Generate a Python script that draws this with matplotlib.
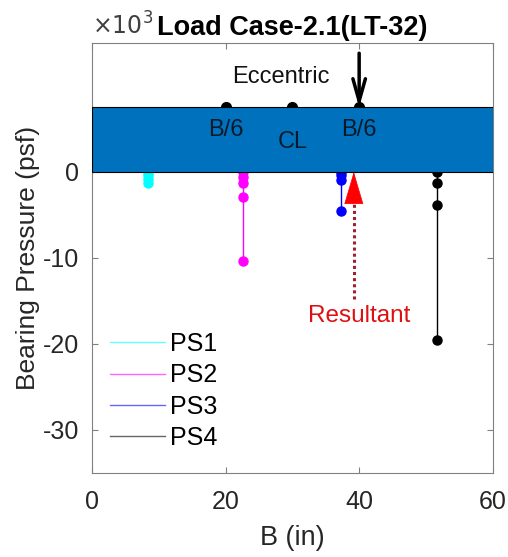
import matplotlib
matplotlib.use("Agg")
import matplotlib.pyplot as plt
from matplotlib.patches import Rectangle
from matplotlib.ticker import FuncFormatter, FixedLocator

plt.rcParams['font.family'] = ['Liberation Sans', 'DejaVu Sans']
plt.rcParams['axes.unicode_minus'] = False

# Data (psf)
series = ['PS1', 'PS2', 'PS3', 'PS4']
colors = ['#00FFFF', '#FF00FF', '#0000FF', '#000000']
x_pos = [8.4, 22.6, 37.3, 51.6]
p_vals = [
    [0, -400, -800, -1300],
    [0, -600, -1300, -2900, -10400],
    [0, -400, -900, -4600],
    [0, -1300, -3900, -19600],
]
footing_B = 60
footing_h = 7500
marks_x = [20, 30, 40]
mark_labels = ['B/6', 'CL', 'B/6']
mark_label_y = [4900, 3500, 4900]
ecc_x = 40
ecc_top = 13800
res_x = 39.2
res_bottom = -14800
y_ticks = [-30000, -20000, -10000, 0]
x_ticks = [0, 20, 40, 60]

fig = plt.figure(figsize=(5.08, 5.57), dpi=100)
ax = fig.add_axes([0.181, 0.151, 0.789, 0.772])

ax.add_patch(Rectangle((0, 0), footing_B, footing_h, facecolor='#0072BD',
                       edgecolor='black', linewidth=0.8, zorder=5))

for name, c, x, vals in zip(series, colors, x_pos, p_vals):
    ax.plot([x] * len(vals), vals, color=c, linewidth=1.0, zorder=3, label=name)
    ax.plot([x] * len(vals), vals, 'o', color=c, markersize=6.5, zorder=4)

ax.plot(marks_x, [footing_h] * len(marks_x), 'o', color='black', markersize=7,
        zorder=4, clip_on=False)
for mx, lab, ly in zip(marks_x, mark_labels, mark_label_y):
    ax.text(mx, ly, lab, ha='center', va='center', fontsize=17, color='#0a1a2a', zorder=6)

ax.text(28.3, 11000, 'Eccentric', ha='center', va='center', fontsize=17, color='#111111')
ax.annotate('', xy=(ecc_x, footing_h), xytext=(ecc_x, ecc_top),
            arrowprops=dict(arrowstyle='->,head_width=0.45,head_length=1.6',
                            color='black', lw=2.5, shrinkA=0, shrinkB=0), zorder=7)

# Resultant
ax.plot([res_x, res_x], [res_bottom, -3000], linestyle=(0, (1, 1)), color='#a02030',
        linewidth=2.2, zorder=6)
ax.annotate('', xy=(res_x, 0), xytext=(res_x, -3600),
            arrowprops=dict(arrowstyle='-|>,head_width=0.65,head_length=2.2',
                            color='#ff0000', lw=0.5, shrinkA=0, shrinkB=0), zorder=7)
ax.text(40.0, -16800, 'Resultant', ha='center', va='center', fontsize=17.5, color='#dd1111',
        zorder=6)

ax.set_xlim(0, 60)
ax.set_ylim(-35000, 15000)
ax.set_xticks(x_ticks)
ax.yaxis.set_major_locator(FixedLocator(y_ticks))
ax.yaxis.set_major_formatter(FuncFormatter(lambda v, p: f"{v / 1000:g}"))
ax.text(0.0, 1.008, r'$\times10^{3}$', transform=ax.transAxes, ha='left', va='bottom',
        fontsize=17, color='#404040')

for s in ax.spines.values():
    s.set_color('#808080')
ax.tick_params(direction='in', top=True, right=True, labelsize=18, colors='#262626',
               length=4, color='#808080')
ax.tick_params(axis='x', pad=12)
ax.tick_params(axis='y', pad=9)

ax.set_xlabel('B (in)', fontsize=19.5, color='#262626', labelpad=8)
ax.set_ylabel('Bearing Pressure (psf)', fontsize=19, color='#262626')
ax.yaxis.set_label_coords(-0.13, 0.5)
ax.set_title('Load Case-2.1(LT-32)', fontsize=19.5, fontweight='bold', pad=6, x=0.5)

leg = ax.legend(loc='lower left', bbox_to_anchor=(0.02, 0.03), frameon=False,
                fontsize=18, handlelength=2.2, handletextpad=0.2, labelspacing=0.29,
                borderaxespad=0)
for h in leg.get_lines():
    h.set_alpha(0.6)

fig.savefig('out.png', dpi=100)
